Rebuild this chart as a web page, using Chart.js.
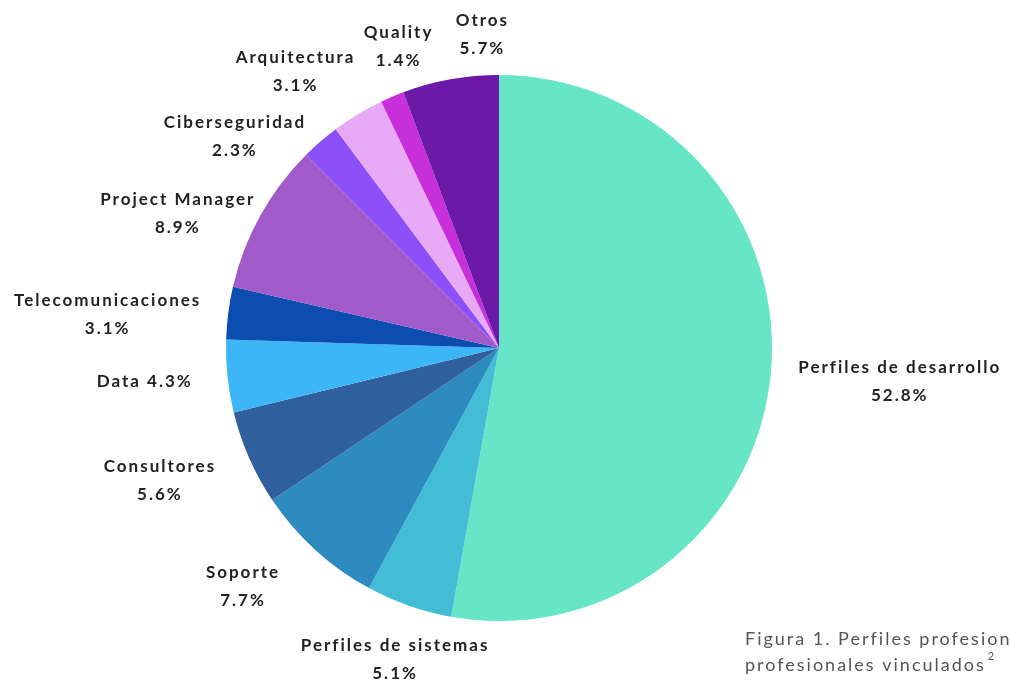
<!DOCTYPE html>
<html>
<head>
<meta charset="utf-8">
<script src="https://cdn.jsdelivr.net/npm/chart.js@4.4.0/dist/chart.umd.min.js"></script>
<style>
  html, body { margin: 0; padding: 0; background: #fff; }
  #wrap { width: 1010px; height: 684px; position: relative; }
</style>
</head>
<body>
<div id="wrap"><canvas id="pie"></canvas></div>
<script>
// Datos del gráfico
const categorias = ['Perfiles de desarrollo', 'Perfiles de sistemas', 'Soporte', 'Consultores', 'Data',
  'Telecomunicaciones', 'Project Manager', 'Ciberseguridad', 'Arquitectura', 'Quality', 'Otros'];
const porcentajes = [52.8, 5.1, 7.7, 5.6, 4.3, 3.1, 8.9, 2.3, 3.1, 1.4, 5.7];
const colores = ['#66e5c7', '#43bcd6', '#2e8bc0', '#2f5f9c', '#3db6f8', '#0b4db0',
  '#a05bc9', '#8c4ff8', '#e8a9f7', '#c62fd9', '#6b1aa8'];

// Ajustes de posición de etiquetas (respecto al punto radial)
const nudgeEtiquetas = [[84, 6], [1, 11], [-42, 3], [-48, 4], [-38, 1], [-76, 7],
  [-43, 20], [-56, 29], [-39, -4], [24, -9], [40, -1]];
const etiquetaUnaLinea = [false, false, false, false, true, false, false, false, false, false, false];

const pieLabels = {
  id: 'pieLabels',
  afterDraw(chart) {
    const ctx = chart.ctx;
    const arcs = chart.getDatasetMeta(0).data;
    ctx.save();
    ctx.fillStyle = '#222';
    ctx.font = 'bold 17px Lato';
    ctx.letterSpacing = '2px';
    ctx.textAlign = 'center';
    ctx.textBaseline = 'middle';
    arcs.forEach((a, i) => {
      const mid = (a.startAngle + a.endAngle) / 2;
      const d = a.outerRadius + 45;
      const x = a.x + Math.cos(mid) * d + nudgeEtiquetas[i][0];
      const y = a.y + Math.sin(mid) * d + nudgeEtiquetas[i][1];
      const pct = porcentajes[i].toFixed(1) + '%';
      if (etiquetaUnaLinea[i]) {
        ctx.fillText(categorias[i] + ' ' + pct, x, y);
      } else {
        ctx.fillText(categorias[i], x, y - 14);
        ctx.fillText(pct, x, y + 14);
      }
    });
    // Pie de figura
    ctx.textAlign = 'left';
    ctx.textBaseline = 'alphabetic';
    ctx.fillStyle = '#555';
    ctx.font = '18px Lato';
    ctx.letterSpacing = '2px';
    ctx.fillText('Figura 1. Perfiles profesionales', 745, 645);
    ctx.fillText('profesionales vinculados', 745, 671);
    const w = ctx.measureText('profesionales vinculados').width;
    ctx.font = '11px Lato';
    ctx.fillText('2', 745 + w + 2, 660);
    ctx.restore();
  }
};

new Chart(document.getElementById('pie').getContext('2d'), {
  type: 'pie',
  data: {
    labels: categorias,
    datasets: [{ data: porcentajes, backgroundColor: colores, borderWidth: 0 }]
  },
  options: {
    responsive: true,
    maintainAspectRatio: false,
    animation: false,
    layout: { padding: { left: 226, right: 238, top: 75, bottom: 63 } },
    plugins: { legend: { display: false }, tooltip: { enabled: false } }
  },
  plugins: [pieLabels]
});
</script>
</body>
</html>
